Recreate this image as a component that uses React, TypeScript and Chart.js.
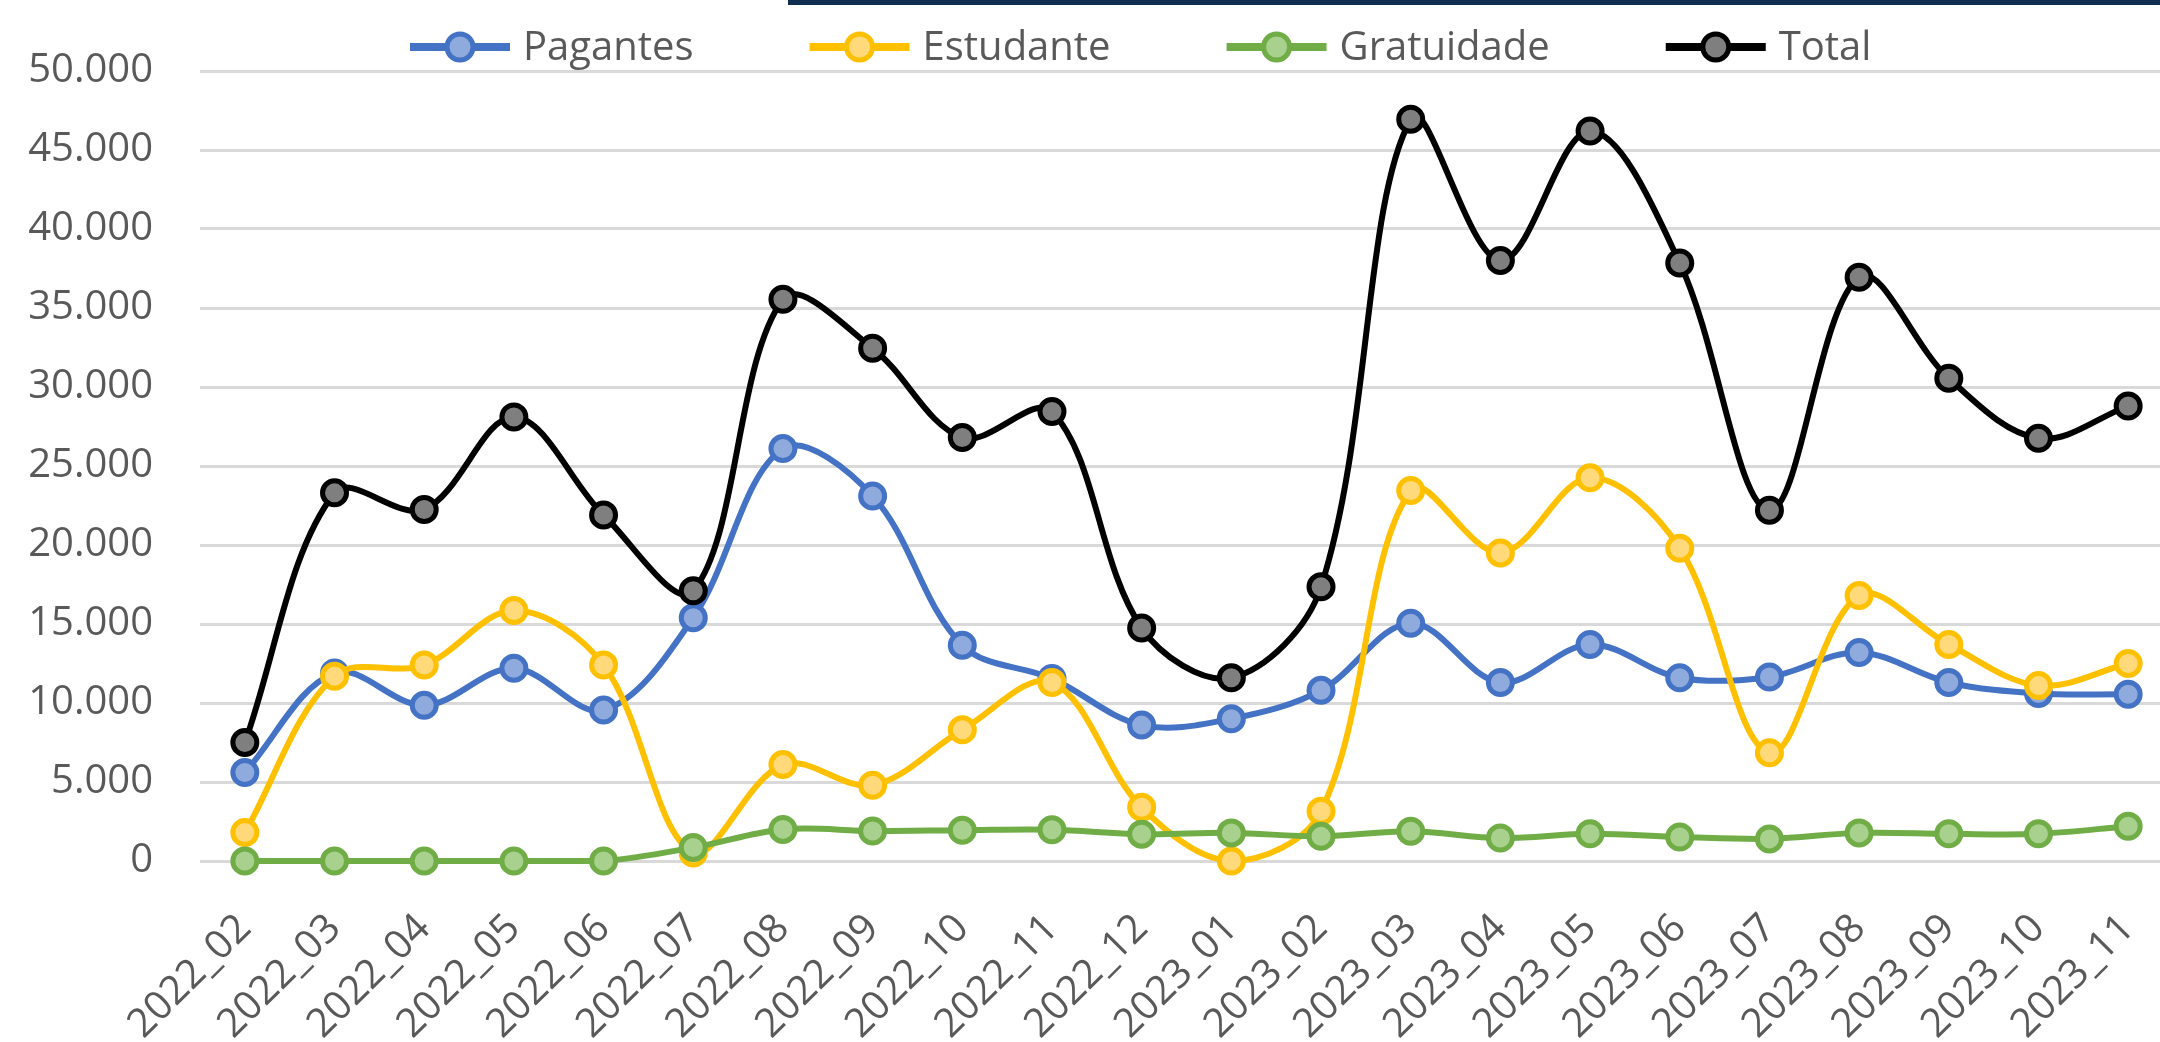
import React, { useEffect, useRef } from "react";
import { Chart, registerables } from "chart.js";

Chart.register(...registerables);

const categories = [
  "2022_02", "2022_03", "2022_04", "2022_05", "2022_06", "2022_07", "2022_08", "2022_09",
  "2022_10", "2022_11", "2022_12", "2023_01", "2023_02", "2023_03", "2023_04", "2023_05",
  "2023_06", "2023_07", "2023_08", "2023_09", "2023_10", "2023_11",
];

const pagantes = [5600, 11900, 9850, 12200, 9550, 15400, 26100, 23100, 13650, 11550, 8600, 9000, 10800, 15050, 11300, 13700, 11600, 11650, 13200, 11300, 10600, 10550];
const estudante = [1800, 11700, 12400, 15850, 12400, 500, 6100, 4800, 8300, 11300, 3400, 0, 3150, 23450, 19500, 24250, 19800, 6850, 16800, 13700, 11100, 12500];
const gratuidade = [0, 0, 0, 0, 0, 850, 2000, 1900, 1950, 1980, 1700, 1780, 1560, 1880, 1450, 1720, 1520, 1400, 1780, 1720, 1720, 2200];
const total = [7500, 23300, 22250, 28100, 21900, 17100, 35550, 32450, 26800, 28450, 14750, 11600, 17350, 46950, 38000, 46200, 37850, 22200, 36950, 30550, 26750, 28800];

const seriesNames = ["Pagantes", "Estudante", "Gratuidade", "Total"];
const lineColors = ["#4472C4", "#FFC000", "#70AD47", "#000000"];
const fillColors = ["#8FAADC", "#FFD97A", "#A9D18E", "#7F7F7F"];

const yMax = 50000;
const yStep = 5000;

const FONT = '"Open Sans", "Noto Sans", sans-serif';
const TEXT = "#595959";

function fmt(v: number): string {
  if (v === 0) return "0";
  return String(v).replace(/\B(?=(\d{3})+(?!\d))/g, ".");
}

const legendPlugin = {
  id: "excelLegend",
  afterDraw(chart: any) {
    const ctx = chart.ctx as CanvasRenderingContext2D;
    ctx.save();
    ctx.font = `400 40px ${FONT}`;
    ctx.textBaseline = "middle";
    ctx.textAlign = "left";
    let x = 410;
    const y = 47;
    chart.data.datasets.forEach((ds: any) => {
      ctx.strokeStyle = ds.borderColor;
      ctx.lineWidth = 8;
      ctx.beginPath();
      ctx.moveTo(x, y);
      ctx.lineTo(x + 100, y);
      ctx.stroke();
      ctx.beginPath();
      ctx.arc(x + 50, y, 13, 0, Math.PI * 2);
      ctx.fillStyle = ds.pointBackgroundColor;
      ctx.fill();
      ctx.lineWidth = 5;
      ctx.strokeStyle = ds.borderColor;
      ctx.stroke();
      ctx.fillStyle = TEXT;
      const tx = x + 113;
      ctx.fillText(ds.label, tx, y + 2);
      x = tx + ctx.measureText(ds.label).width + 116;
    });
    ctx.restore();
  },
};

export default function App() {
  const ref = useRef<HTMLCanvasElement | null>(null);

  useEffect(() => {
    if (!ref.current) return;
    const values = [pagantes, estudante, gratuidade, total];
    const chart = new Chart(ref.current, {
      type: "line",
      data: {
        labels: categories,
        datasets: values.map((d, i) => ({
          label: seriesNames[i],
          data: d,
          borderColor: lineColors[i],
          backgroundColor: fillColors[i],
          pointBackgroundColor: fillColors[i],
          pointBorderColor: lineColors[i],
          borderWidth: 6,
          pointRadius: 12,
          pointBorderWidth: 5,
          pointHoverRadius: 12,
          tension: 0.35,
          fill: false,
          clip: false as any,
          order: 4 - i,
        })),
      },
      options: {
        responsive: false,
        animation: false,
        devicePixelRatio: 1,
        layout: { padding: { top: 70, left: 0, right: 0, bottom: 0 } },
        plugins: {
          legend: { display: false },
          tooltip: { enabled: false },
          title: { display: false },
        },
        scales: {
          x: {
            type: "category",
            offset: true,
            grid: { display: false, drawTicks: false },
            border: { display: false },
            ticks: {
              autoSkip: false,
              minRotation: 45,
              maxRotation: 45,
              padding: 44,
              labelOffset: 0,
              color: TEXT,
              font: { family: FONT, size: 40 },
            },
            afterFit: (s: any) => {
              s.height = 181;
              s.paddingLeft = 0;
              s.paddingRight = 0;
            },
          },
          y: {
            min: 0,
            max: yMax,
            border: { display: false },
            grid: { color: "#D9D9D9", lineWidth: 3, drawTicks: false },
            ticks: {
              stepSize: yStep,
              padding: 47,
              color: TEXT,
              font: { family: FONT, size: 40 },
              callback: (v: any) => fmt(Number(v)),
            },
            afterFit: (s: any) => {
              s.width = 200;
            },
          },
        },
      },
      plugins: [legendPlugin],
    });
    return () => chart.destroy();
  }, []);

  return (
    <div
      style={{
        position: "fixed",
        left: 0,
        top: 0,
        width: 2160,
        height: 1042,
        overflow: "hidden",
        background: "#ffffff",
      }}
    >
      <canvas
        ref={ref}
        width={2190}
        height={1042}
        style={{ position: "absolute", left: 0, top: 0, width: 2190, height: 1042 }}
      />
      <div
        style={{
          position: "absolute",
          left: 788,
          top: 0,
          width: 1372,
          height: 5,
          background: "#0E2D50",
        }}
      />
    </div>
  );
}
